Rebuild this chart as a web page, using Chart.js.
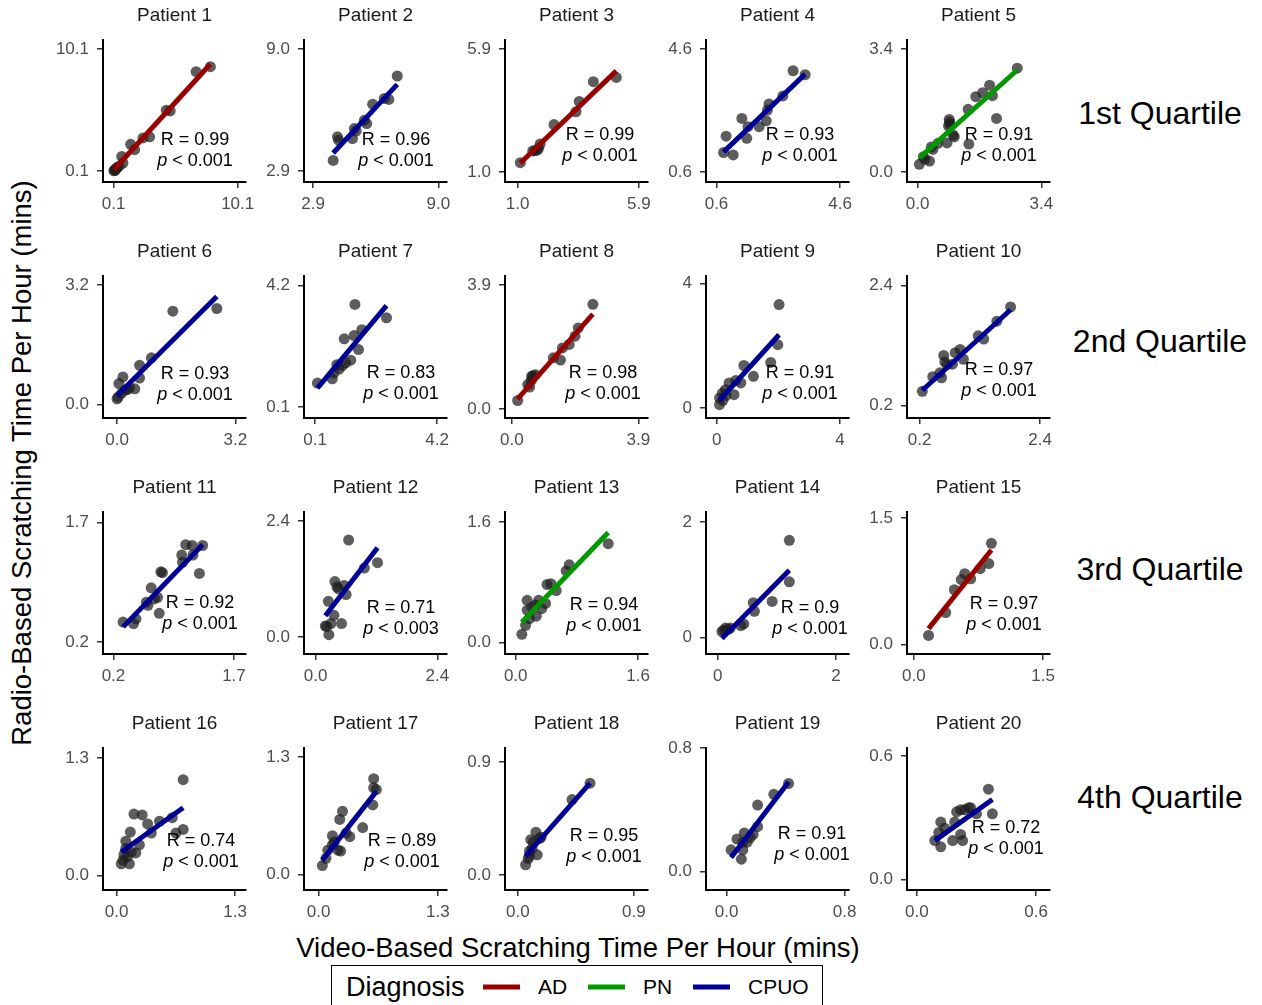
<!DOCTYPE html>
<html>
<head>
<meta charset="utf-8">
<script src="https://cdn.jsdelivr.net/npm/chart.js@4.4.1/dist/chart.umd.min.js"></script>
<style>
  html, body { margin: 0; padding: 0; background: #fff; }
  #page { position: relative; width: 1262px; height: 1005px; overflow: hidden; font-family: "Liberation Sans", Arial, Helvetica, sans-serif; }
  canvas.panel { position: absolute; }
  .rowLabel { position: absolute; font-size: 32px; color: #000; transform: translate(-50%, -50%); white-space: nowrap; }
  #xTitle { position: absolute; left: 578px; top: 948px; font-size: 27.5px; transform: translate(-50%, -50%); white-space: nowrap; }
  #yTitle { position: absolute; left: 22px; top: 463px; font-size: 27.5px; transform: translate(-50%, -50%) rotate(-90deg); white-space: nowrap; }
  #legend { position: absolute; left: 331px; top: 965px; width: 492px; height: 50px; border: 1.5px solid #000; box-sizing: border-box; }
  #legend span { position: absolute; white-space: nowrap; transform: translateY(-50%); }
  #legend i { position: absolute; height: 5px; width: 37px; transform: translateY(-50%); }
</style>
</head>
<body>
<div id="page">
  <div id="yTitle">Radio-Based Scratching Time Per Hour (mins)</div>
  <div id="xTitle">Video-Based Scratching Time Per Hour (mins)</div>
  <div id="legend"></div>
</div>
<script>
// Dados: um paciente por posição
const patients = ['Patient 1','Patient 2','Patient 3','Patient 4','Patient 5','Patient 6','Patient 7','Patient 8','Patient 9','Patient 10',
  'Patient 11','Patient 12','Patient 13','Patient 14','Patient 15','Patient 16','Patient 17','Patient 18','Patient 19','Patient 20'];
const diagnosis = ['AD','CPUO','AD','CPUO','PN','CPUO','CPUO','AD','CPUO','CPUO',
  'CPUO','CPUO','PN','CPUO','AD','CPUO','CPUO','CPUO','CPUO','CPUO'];
const quartiles = ['1st Quartile','2nd Quartile','3rd Quartile','4th Quartile'];
const diagnosisNames = ['AD','PN','CPUO'];

// tempo por vídeo (eixo x)
const videoTime = [
  [0.12,0.18,0.22,0.30,0.40,0.55,0.75,0.85,1.47,1.79,2.46,3.00,4.34,4.66,6.75,7.90],
  [3.88,4.09,4.14,4.82,4.91,5.00,5.40,5.51,5.80,6.37,6.59,7.00],
  [1.11,1.61,1.70,1.80,1.85,1.91,2.47,3.36,3.49,4.06,4.99],
  [0.83,0.91,1.14,1.42,1.58,1.62,1.98,2.21,2.25,2.30,2.75,3.08,3.47],
  [0.05,0.16,0.20,0.33,0.38,0.42,0.56,0.81,0.85,0.87,0.88,0.89,0.98,1.01,1.41,1.39,1.60,1.79,1.98,2.06,2.17,2.74],
  [0.00,0.03,0.05,0.12,0.16,0.21,0.28,0.34,0.48,0.61,0.61,0.93,1.51,2.70],
  [0.18,0.68,0.74,0.83,0.91,1.02,1.13,1.30,1.08,1.41,1.44,1.56,1.67,2.50],
  [0.18,0.49,0.55,0.60,0.61,0.65,0.73,1.28,1.50,1.56,1.77,1.95,2.05,2.50],
  [0.09,0.09,0.18,0.20,0.28,0.30,0.40,0.56,0.62,0.78,0.88,1.19,1.75,1.98,2.02],
  [0.25,0.44,0.57,0.60,0.64,0.66,0.70,0.80,0.85,0.94,1.00,1.27,1.37,1.61,1.86],
  [0.32,0.45,0.48,0.61,0.63,0.67,0.71,0.75,0.77,0.79,0.81,1.05,1.06,1.10,1.18,1.19,1.27,1.31],
  [0.19,0.22,0.25,0.26,0.30,0.36,0.38,0.42,0.45,0.51,0.56,0.60,0.65,0.96,1.22],
  [0.08,0.13,0.15,0.15,0.18,0.21,0.26,0.27,0.30,0.34,0.39,0.41,0.46,0.53,0.66,0.70,1.21],
  [0.07,0.10,0.13,0.18,0.21,0.39,0.44,0.60,0.62,0.92,1.21,1.21],
  [0.17,0.37,0.47,0.55,0.59,0.66,0.77,0.87,0.90],
  [0.05,0.07,0.08,0.10,0.10,0.12,0.14,0.15,0.16,0.19,0.21,0.25,0.28,0.34,0.38,0.47,0.61,0.65,0.73,0.73],
  [0.04,0.08,0.10,0.15,0.15,0.17,0.21,0.24,0.23,0.26,0.30,0.34,0.48,0.59,0.60,0.60,0.63],
  [0.06,0.08,0.09,0.09,0.10,0.11,0.12,0.14,0.15,0.17,0.18,0.42,0.56],
  [0.03,0.07,0.10,0.11,0.11,0.12,0.14,0.16,0.18,0.21,0.21,0.32,0.42],
  [0.09,0.11,0.12,0.12,0.14,0.18,0.19,0.20,0.22,0.22,0.23,0.24,0.26,0.27,0.30,0.36,0.38]
];

// tempo por rádio (eixo y)
const radioTime = [
  [0.12,0.20,0.15,0.30,0.40,0.50,1.30,0.75,2.29,1.85,2.81,2.90,5.09,5.03,8.24,8.65],
  [3.43,4.61,4.44,4.52,5.02,4.90,5.44,5.27,6.24,6.53,6.48,7.65],
  [1.37,1.84,1.85,1.87,1.95,2.11,2.89,3.40,3.81,4.60,4.77],
  [1.23,1.76,1.15,2.34,1.69,2.07,2.07,2.26,2.61,2.81,3.07,3.89,3.76],
  [0.21,0.42,0.35,0.30,0.69,0.62,0.79,0.80,1.27,1.45,1.38,1.31,1.02,0.97,0.77,1.73,2.08,2.19,2.40,2.11,1.48,2.87],
  [0.15,0.20,0.56,0.30,0.74,0.38,0.40,0.45,0.42,0.71,1.05,1.25,2.50,2.57],
  [0.91,1.05,1.25,1.53,1.38,1.50,1.59,1.68,2.40,2.51,3.56,2.04,2.71,3.11],
  [0.27,0.77,0.69,0.90,1.03,1.05,1.08,1.61,1.54,1.92,2.03,2.29,2.55,3.29],
  [0.11,0.32,0.48,0.25,0.59,0.40,0.81,0.43,0.89,0.81,1.37,1.02,1.47,2.04,3.33],
  [0.46,0.73,0.80,0.71,1.12,1.00,0.95,0.96,1.17,1.23,1.05,1.48,1.42,1.75,2.01],
  [0.45,0.43,0.49,0.70,0.66,0.88,0.74,0.76,0.56,1.08,1.07,1.29,1.20,1.42,1.41,1.29,1.06,1.41],
  [0.23,0.22,0.74,0.05,0.28,0.45,1.15,1.04,1.00,0.28,1.07,0.88,2.01,1.43,1.54],
  [0.11,0.23,0.56,0.43,0.32,0.47,0.50,0.35,0.56,0.45,0.52,0.77,0.78,0.69,0.95,1.03,1.31],
  [0.10,0.12,0.16,0.14,0.16,0.20,0.23,0.60,0.45,0.62,0.96,1.68],
  [0.11,0.38,0.65,0.77,0.84,0.78,0.90,0.96,1.20],
  [0.13,0.17,0.23,0.30,0.38,0.21,0.13,0.48,0.26,0.68,0.25,0.34,0.67,0.57,0.47,0.60,0.64,0.47,0.51,1.06],
  [0.10,0.18,0.27,0.33,0.43,0.36,0.27,0.26,0.61,0.70,0.46,0.42,0.52,0.77,0.96,1.06,0.94],
  [0.08,0.13,0.15,0.19,0.28,0.21,0.26,0.34,0.16,0.29,0.30,0.60,0.73],
  [0.14,0.21,0.08,0.14,0.19,0.25,0.19,0.22,0.24,0.29,0.43,0.50,0.57],
  [0.19,0.23,0.28,0.16,0.25,0.19,0.28,0.33,0.22,0.34,0.19,0.34,0.35,0.35,0.32,0.44,0.32]
];

// reta de regressão: valor de y no menor e no maior x
const fitStartY = [0.20,3.80,1.36,1.25,0.39,0.24,0.74,0.32,0.25,0.48,0.39,0.44,0.27,-0.02,0.19,0.26,0.16,0.15,0.09,0.19];
const fitEndY   = [8.87,7.23,5.03,3.78,2.82,2.89,3.52,2.98,2.36,1.96,1.42,1.85,1.46,1.16,1.12,0.75,0.92,0.73,0.58,0.39];

// rótulos dos dois ticks de cada painel
const tickLabels = [['0.1','10.1'],['2.9','9.0'],['1.0','5.9'],['0.6','4.6'],['0.0','3.4'],
  ['0.0','3.2'],['0.1','4.2'],['0.0','3.9'],['0','4'],['0.2','2.4'],
  ['0.2','1.7'],['0.0','2.4'],['0.0','1.6'],['0','2'],['0.0','1.5'],
  ['0.0','1.3'],['0.0','1.3'],['0.0','0.9'],['0.0','0.8'],['0.0','0.6']];

// limites dos eixos
const xLimits = [[-0.76,10.77],[2.46,9.42],[0.49,6.27],[0.26,4.89],[-0.29,3.64],
  [-0.38,3.49],[-0.27,4.53],[-0.21,4.20],[-0.35,4.29],[-0.03,2.58],
  [0.07,1.85],[-0.23,2.59],[-0.14,1.73],[-0.20,2.22],[-0.08,1.58],
  [-0.15,1.42],[-0.16,1.40],[-0.10,1.01],[-0.14,0.83],[-0.05,0.67]];
const yLimits = [[-0.80,10.84],[2.35,9.45],[0.60,6.26],[0.27,4.89],[-0.28,3.65],
  [-0.36,3.44],[-0.27,4.52],[-0.28,4.18],[-0.32,4.25],[-0.03,2.58],
  [0.05,1.83],[-0.35,2.59],[-0.15,1.73],[-0.29,2.17],[-0.11,1.57],
  [-0.16,1.41],[-0.17,1.40],[-0.12,1.01],[-0.12,0.80],[-0.05,0.64]];

// correlação e p-valor
const corrR = ['0.99','0.96','0.99','0.93','0.91','0.93','0.83','0.98','0.91','0.97',
  '0.92','0.71','0.94','0.9','0.97','0.74','0.89','0.95','0.91','0.72'];
const pValue = ['0.001','0.001','0.001','0.001','0.001','0.001','0.001','0.001','0.001','0.001',
  '0.001','0.003','0.001','0.001','0.001','0.001','0.001','0.001','0.001','0.001'];

// Estilo e layout
const FONT = '"Liberation Sans", Arial, Helvetica, sans-serif';
const colors = { AD: '#990000', PN: '#009900', CPUO: '#000099' };
const labelDX = [92,92,95,94,92, 92,97,98,94,92, 97,97,99,104,97, 98,98,99,106,99];
const labelDY = [100,100,95,95,95, 98,97,97,97,94, 91,96,93,96,92, 93,93,88,86,80];
const rowLabelY = [113, 341, 569, 797];

const page = document.getElementById('page');

// Plugin que escreve o título do painel e o texto de R / p
const panelText = {
    id: 'panelText',
    afterDraw(chart, args, opts) {
        const ctx = chart.ctx;
        const area = chart.chartArea;
        const i = opts.index;
        ctx.save();
        ctx.textBaseline = 'middle';
        ctx.textAlign = 'center';
        ctx.fillStyle = '#1a1a1a';
        ctx.font = '19px ' + FONT;
        ctx.fillText(patients[i], (area.left + area.right) / 2, 16);

        const cx = area.left + labelDX[i];
        const cy = area.top + labelDY[i];
        ctx.fillStyle = '#000';
        ctx.font = '18px ' + FONT;
        ctx.fillText('R = ' + corrR[i], cx, cy);

        const rest = ' < ' + pValue[i];
        ctx.font = 'italic 18px ' + FONT;
        const wp = ctx.measureText('p').width;
        ctx.font = '18px ' + FONT;
        const wr = ctx.measureText(rest).width;
        const x0 = cx - (wp + wr) / 2;
        ctx.textAlign = 'left';
        ctx.font = 'italic 18px ' + FONT;
        ctx.fillText('p', x0, cy + 21);
        ctx.font = '18px ' + FONT;
        ctx.fillText(rest, x0 + wp, cy + 21);
        ctx.restore();
    }
};

function axisOptions(i, lims, isX) {
    const lo = parseFloat(tickLabels[i][0]);
    const hi = parseFloat(tickLabels[i][1]);
    return {
        type: 'linear',
        min: lims[0],
        max: lims[1],
        afterBuildTicks: s => { s.ticks = [{ value: lo }, { value: hi }]; },
        afterFit: s => { if (isX) s.height = 40; else s.width = 56; },
        ticks: {
            autoSkip: false,
            maxRotation: 0,
            padding: isX ? 6 : 8,
            color: '#4d4d4d',
            font: { family: FONT, size: 17 },
            callback: (v, idx) => tickLabels[i][idx]
        },
        grid: { drawOnChartArea: false, drawTicks: true, tickLength: 6, color: '#333', lineWidth: 1.5 },
        border: { display: true, color: '#000', width: 2 }
    };
}

patients.forEach((name, i) => {
    const col = i % 5;
    const row = Math.floor(i / 5);
    const canvas = document.createElement('canvas');
    canvas.className = 'panel';
    canvas.width = 215;
    canvas.height = 222;
    canvas.style.left = (103 + 201 * col - 56) + 'px';
    canvas.style.top = (236 * row) + 'px';
    page.appendChild(canvas);

    const pts = videoTime[i].map((x, k) => ({ x: x, y: radioTime[i][k] }));
    const xMin = Math.min(...videoTime[i]);
    const xMax = Math.max(...videoTime[i]);

    new Chart(canvas, {
        type: 'scatter',
        data: {
            datasets: [
                {
                    data: [{ x: xMin, y: fitStartY[i] }, { x: xMax, y: fitEndY[i] }],
                    showLine: true,
                    borderColor: colors[diagnosis[i]],
                    borderWidth: 5,
                    pointRadius: 0,
                    order: 0
                },
                {
                    data: pts,
                    backgroundColor: 'rgba(30,30,30,0.72)',
                    borderWidth: 0,
                    pointRadius: 5.5,
                    order: 1
                }
            ]
        },
        options: {
            responsive: false,
            animation: false,
            layout: { padding: { top: 40, right: 16, left: 0, bottom: 0 } },
            plugins: {
                legend: { display: false },
                tooltip: { enabled: false },
                panelText: { index: i }
            },
            scales: {
                x: axisOptions(i, xLimits[i], true),
                y: axisOptions(i, yLimits[i], false)
            }
        },
        plugins: [panelText]
    });
});

// Rótulos dos quartis à direita
quartiles.forEach((q, r) => {
    const d = document.createElement('div');
    d.className = 'rowLabel';
    d.textContent = q;
    d.style.left = '1160px';
    d.style.top = rowLabelY[r] + 'px';
    page.appendChild(d);
});

// Legenda
const legend = document.getElementById('legend');
const legendTitle = document.createElement('span');
legendTitle.textContent = 'Diagnosis';
legendTitle.style.left = '14px';
legendTitle.style.top = '21px';
legendTitle.style.fontSize = '27px';
legend.appendChild(legendTitle);
const keyLeft = [151, 256, 361];
diagnosisNames.forEach((dname, k) => {
    const line = document.createElement('i');
    line.style.left = keyLeft[k] + 'px';
    line.style.top = '21px';
    line.style.background = colors[dname];
    legend.appendChild(line);
    const t = document.createElement('span');
    t.textContent = dname;
    t.style.left = (keyLeft[k] + 55) + 'px';
    t.style.top = '21px';
    t.style.fontSize = '21px';
    legend.appendChild(t);
});
</script>
</body>
</html>
